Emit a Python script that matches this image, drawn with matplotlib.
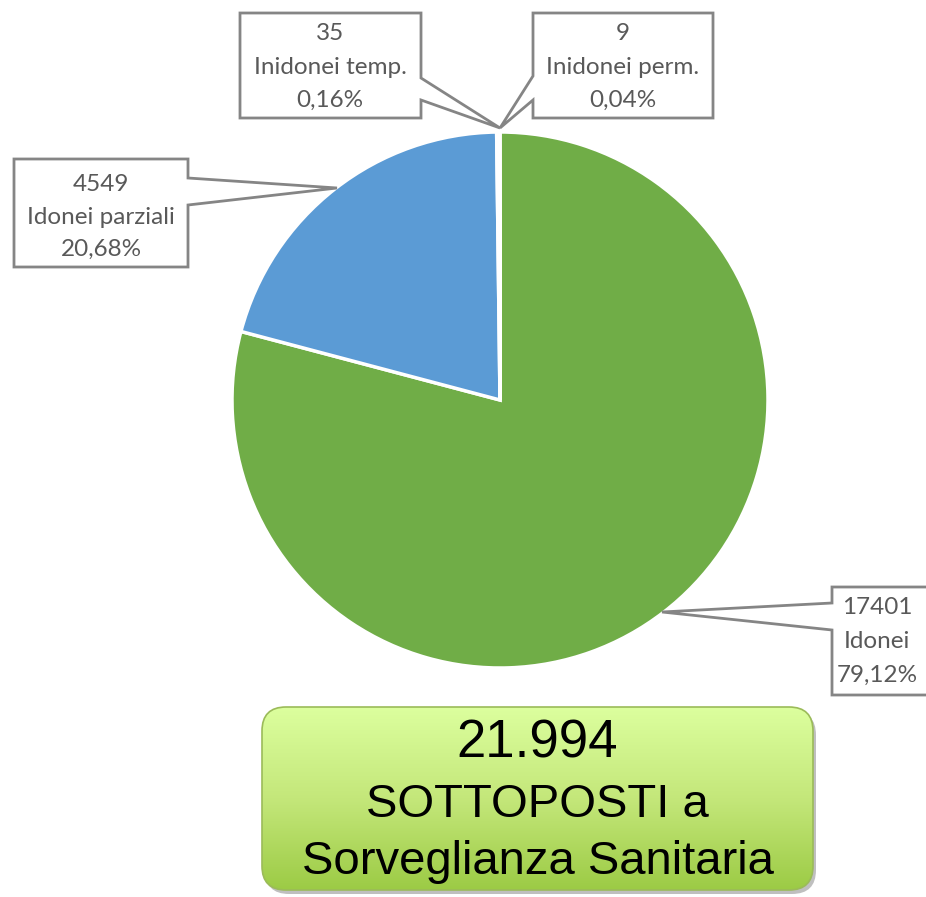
import matplotlib
matplotlib.use('Agg')
import matplotlib.pyplot as plt
import numpy as np
from matplotlib.patches import FancyBboxPatch, Polygon
from matplotlib.colors import LinearSegmentedColormap

# data
labels = ['Idonei', 'Idonei parziali', 'Inidonei temp.', 'Inidonei perm.']
values = [17401, 4549, 35, 9]
colors = ['#70AD47', '#5B9BD5', '#A5A5A5', '#FFC000']

W, H = 926, 897
fig = plt.figure(figsize=(W / 100, H / 100), dpi=100)
ax = fig.add_axes([0, 0, 1, 1])
fig.patch.set_facecolor('white')

ax.pie(values, colors=colors, startangle=90, counterclock=False,
       center=(500, H - 400), radius=268,
       wedgeprops=dict(edgecolor='white', linewidth=2.5))
ax.set_xlim(0, W)
ax.set_ylim(0, H)
ax.set_aspect('auto')
ax.axis('off')

TXT = '#595959'
EDGE = '#858585'


def Y(y):
    return H - y


def callout(box, side, a, b, tip):
    x0, y0, x1, y1 = box
    if side == 'right':
        pts = [(x0, y0), (x1, y0), (x1, a), tip, (x1, b), (x1, y1), (x0, y1)]
    else:
        pts = [(x0, y0), (x1, y0), (x1, y1), (x0, y1), (x0, b), tip, (x0, a)]
    pts = [(px, Y(py)) for px, py in pts]
    ax.add_patch(Polygon(pts, closed=True, facecolor='white', edgecolor=EDGE,
                         linewidth=2.0, joinstyle='miter', zorder=5))


def label_text(cx, ys, i):
    pct = f'{values[i] / sum(values) * 100:.2f}%'.replace('.', ',')
    for yy, s in zip(ys, [str(values[i]), labels[i], pct]):
        ax.text(cx, Y(yy), s, ha='center', va='center', fontsize=17.5,
                color=TXT, family='Lato', zorder=6)


# callouts (box in image pixels)
callout((832, 587, 945, 695), 'left', 603, 630, (662, 612))
label_text(877, [607, 641, 675], 0)

callout((14, 159, 188, 267), 'right', 178, 205, (337, 188))
label_text(101, [184, 217, 249], 1)

callout((240, 13, 421, 118), 'right', 78, 100, (500, 128))
label_text(330, [33, 67, 100], 2)

callout((533, 13, 713, 118), 'left', 76, 100, (500, 128))
label_text(623, [33, 67, 100], 3)

# summary box with gradient
bx, by, bw, bh = 262, Y(890), 551, 183
shadow = FancyBboxPatch((bx + 3, by - 4), bw, bh,
                        boxstyle='round,pad=0,rounding_size=24',
                        facecolor='#000000', edgecolor='none', alpha=0.25, zorder=7)
ax.add_patch(shadow)
box = FancyBboxPatch((bx, by), bw, bh, boxstyle='round,pad=0,rounding_size=24',
                     facecolor='none', edgecolor='#9BBB59', linewidth=1.2, zorder=9)
ax.add_patch(box)
cmap = LinearSegmentedColormap.from_list('g', ['#9CCB45', '#C4E77A', '#DCFF9E'])
grad = np.linspace(0, 1, 256).reshape(-1, 1)
im = ax.imshow(grad, cmap=cmap, extent=(bx, bx + bw, by, by + bh),
               origin='lower', aspect='auto', zorder=8)
im.set_clip_path(box)

total = sum(values)
total_txt = f'{total:,}'.replace(',', '.')
for yy, s, fs in zip([743, 805, 862], [total_txt, 'SOTTOPOSTI a', 'Sorveglianza Sanitaria'],
                     [38, 34, 34]):
    ax.text(bx + bw / 2, Y(yy), s, ha='center', va='center', fontsize=fs,
            color='black', family='Liberation Sans', zorder=10)

ax.set_xlim(0, W)
ax.set_ylim(0, H)
fig.savefig('out.png', dpi=100, facecolor='white')
